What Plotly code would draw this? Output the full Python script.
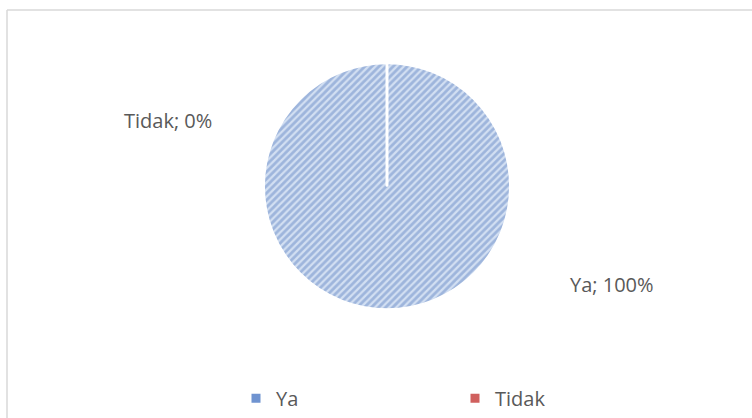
import plotly.graph_objects as go

labels = ["Ya", "Tidak"]
values = [100, 0]
percent_text = ["100%", "0%"]
colors = ["#8eaadb", "#c0504d"]
pattern_fg = ["#6a8cc6", "#c0504d"]
pattern_bg = ["#d2dff2", "#e6a6a4"]
legend_colors = ["#6f93d0", "#d0605e"]

W, H = 752, 418
cx, cy, r = 387, 188, 124  # pixel layout of pie

dom_x = [(cx - r) / W, (cx + r) / W]
dom_y = [(H - (cy + r)) / H, (H - (cy - r)) / H]

FONT = "Open Sans"
TXT = "#595959"

fig = go.Figure()
fig.add_trace(go.Pie(
    labels=labels,
    values=values,
    sort=False,
    direction="clockwise",
    rotation=0,
    textinfo="none",
    hoverinfo="label+percent",
    marker=dict(
        colors=colors,
        line=dict(color="white", width=1.5),
        pattern=dict(shape="/", fgcolor=pattern_fg, bgcolor=pattern_bg,
                     size=5, solidity=0.55, fillmode="overlay"),
    ),
    domain=dict(x=dom_x, y=dom_y),
    showlegend=False,
))

# legend entries (small squares like the original)
for lab, col in zip(labels, legend_colors):
    fig.add_trace(go.Scatter(x=[None], y=[None], mode="markers", name=lab,
                             marker=dict(symbol="square", size=9, color=col),
                             hoverinfo="skip", showlegend=True))

# data labels
label_pos = {"Tidak": (168, 122), "Ya": (612, 287)}
for lab, pct in zip(labels, percent_text):
    px, py = label_pos[lab]
    fig.add_annotation(x=px / W, y=1 - py / H, xref="paper", yref="paper",
                       xanchor="center", yanchor="middle",
                       text=f"{lab}; {pct}", showarrow=False,
                       font=dict(family=FONT, size=20, color=TXT))

# separator for the 0% slice at 12 o'clock
fig.add_shape(type="line", xref="paper", yref="paper",
              x0=cx / W, x1=cx / W, y0=1 - cy / H, y1=dom_y[1],
              line=dict(color="white", width=3))

# chart border (left & top visible)
fig.add_shape(type="line", xref="paper", yref="paper",
              x0=7 / W, x1=1.01, y0=1 - 10 / H, y1=1 - 10 / H,
              line=dict(color="#d9d9d9", width=1.5))
fig.add_shape(type="line", xref="paper", yref="paper",
              x0=7 / W, x1=7 / W, y0=-0.01, y1=1 - 10 / H,
              line=dict(color="#d9d9d9", width=1.5))

fig.update_layout(
    width=W, height=H,
    margin=dict(l=0, r=0, t=0, b=0),
    paper_bgcolor="white", plot_bgcolor="white",
    xaxis=dict(visible=False, range=[0, 1]),
    yaxis=dict(visible=False, range=[0, 1]),
    legend=dict(orientation="h", x=236 / W, y=1 - 402 / H,
                xanchor="left", yanchor="middle",
                bgcolor="rgba(0,0,0,0)",
                entrywidth=174, entrywidthmode="pixels",
                font=dict(family=FONT, size=20, color=TXT),
                itemsizing="trace", traceorder="normal"),
)

fig.write_html("out.html")
